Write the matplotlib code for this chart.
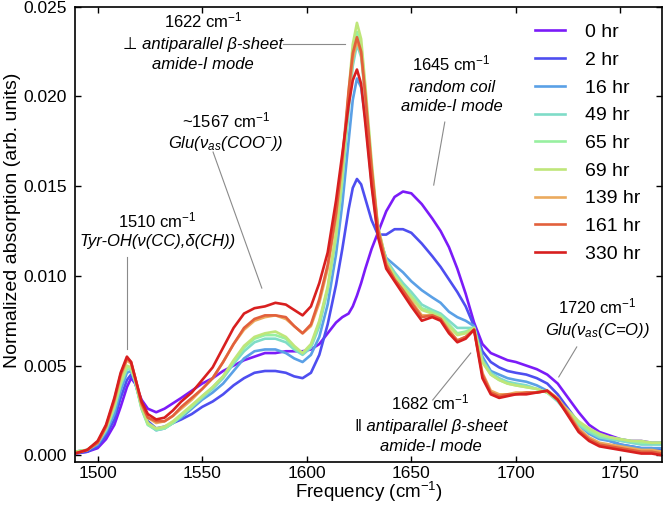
import numpy as np
import matplotlib
matplotlib.use("Agg")
import matplotlib.pyplot as plt

plt.rcParams['font.family'] = ['Liberation Sans', 'DejaVu Sans']
plt.rcParams['mathtext.fontset'] = 'custom'
plt.rcParams['mathtext.rm'] = 'Liberation Sans'
plt.rcParams['mathtext.it'] = 'Liberation Sans:italic'

# frequency grid (cm-1) shared by all spectra
freq = [1489, 1495, 1500, 1504, 1508, 1511, 1514, 1516, 1518, 1521,
        1524, 1528, 1532, 1536, 1540, 1545, 1550, 1555, 1560, 1565,
        1570, 1575, 1580, 1585, 1590, 1594, 1598, 1602, 1606, 1610,
        1614, 1617, 1620, 1622, 1624, 1626, 1628, 1631, 1634, 1638,
        1642, 1646, 1650, 1655, 1660, 1664, 1668, 1672, 1676, 1680,
        1684, 1688, 1692, 1696, 1700, 1705, 1710, 1715, 1720, 1725,
        1730, 1735, 1740, 1745, 1750, 1755, 1760, 1765, 1770]

labels = ["0 hr", "2 hr", "16 hr", "49 hr", "65 hr", "69 hr", "139 hr", "161 hr", "330 hr"]
colors = ["#7b1bf8", "#4e4ef0", "#5aa0e6", "#7fdcc8", "#98f0a0", "#bfe67a", "#ebaa5e", "#e2603c", "#d81f1f"]

a_0hr = [0.0001, 0.0002, 0.0004, 0.0009, 0.0017, 0.0027, 0.0038, 0.0043, 0.0040, 0.0031,
         0.0026, 0.0024, 0.0026, 0.0029, 0.0032, 0.0036, 0.0040, 0.0043, 0.0047, 0.0050,
         0.0053, 0.0055, 0.0057, 0.0057, 0.0058, 0.0058, 0.0058, 0.0059, 0.0062, 0.0068,
         0.0074, 0.0077, 0.0079, 0.0083, 0.0089, 0.0096, 0.0104, 0.0115, 0.0124, 0.0136,
         0.0144, 0.0147, 0.0146, 0.0140, 0.0132, 0.0125, 0.0116, 0.0104, 0.0090, 0.0074,
         0.0062, 0.0057, 0.0055, 0.0053, 0.0052, 0.0050, 0.0048, 0.0045, 0.0040, 0.0032,
         0.0024, 0.0017, 0.0013, 0.0011, 0.0009, 0.0008, 0.0008, 0.0007, 0.0007]
a_2hr = [0.0001, 0.0002, 0.0005, 0.0011, 0.0020, 0.0032, 0.0042, 0.0045, 0.0040, 0.0028,
         0.0019, 0.0015, 0.0016, 0.0018, 0.0020, 0.0023, 0.0027, 0.0030, 0.0034, 0.0039,
         0.0043, 0.0046, 0.0047, 0.0047, 0.0046, 0.0044, 0.0043, 0.0046, 0.0056, 0.0073,
         0.0095, 0.0115, 0.0137, 0.0149, 0.0154, 0.0151, 0.0143, 0.0131, 0.0123, 0.0123,
         0.0126, 0.0126, 0.0124, 0.0118, 0.0111, 0.0105, 0.0098, 0.0091, 0.0083, 0.0072,
         0.0058, 0.0052, 0.0049, 0.0047, 0.0046, 0.0045, 0.0043, 0.0040, 0.0034, 0.0026,
         0.0018, 0.0013, 0.0010, 0.0008, 0.0006, 0.0005, 0.0004, 0.0004, 0.0003]
a_16hr = [0.0002, 0.0003, 0.0006, 0.0013, 0.0023, 0.0036, 0.0046, 0.0047, 0.0041, 0.0027,
          0.0018, 0.0014, 0.0015, 0.0018, 0.0021, 0.0026, 0.0031, 0.0035, 0.0040, 0.0047,
          0.0054, 0.0058, 0.0059, 0.0059, 0.0057, 0.0054, 0.0052, 0.0056, 0.0066, 0.0084,
          0.0112, 0.0140, 0.0175, 0.0198, 0.0210, 0.0205, 0.0188, 0.0152, 0.0123, 0.0110,
          0.0106, 0.0102, 0.0097, 0.0092, 0.0088, 0.0085, 0.0080, 0.0077, 0.0075, 0.0072,
          0.0055, 0.0047, 0.0045, 0.0043, 0.0042, 0.0041, 0.0039, 0.0036, 0.0031, 0.0024,
          0.0017, 0.0012, 0.0009, 0.0008, 0.0006, 0.0005, 0.0004, 0.0004, 0.0004]
a_49hr = [0.0002, 0.0003, 0.0007, 0.0014, 0.0026, 0.0039, 0.0048, 0.0048, 0.0041, 0.0026,
          0.0017, 0.0014, 0.0015, 0.0018, 0.0022, 0.0027, 0.0032, 0.0037, 0.0043, 0.0051,
          0.0058, 0.0063, 0.0065, 0.0065, 0.0063, 0.0059, 0.0056, 0.0060, 0.0072, 0.0092,
          0.0121, 0.0152, 0.0192, 0.0217, 0.0229, 0.0222, 0.0200, 0.0158, 0.0126, 0.0109,
          0.0102, 0.0096, 0.0091, 0.0084, 0.0081, 0.0079, 0.0075, 0.0071, 0.0071, 0.0071,
          0.0053, 0.0046, 0.0043, 0.0041, 0.0040, 0.0039, 0.0037, 0.0035, 0.0030, 0.0023,
          0.0017, 0.0013, 0.0010, 0.0009, 0.0008, 0.0007, 0.0006, 0.0006, 0.0006]
a_65hr = [0.0002, 0.0003, 0.0007, 0.0015, 0.0027, 0.0040, 0.0049, 0.0048, 0.0041, 0.0026,
          0.0017, 0.00145, 0.0015, 0.0018, 0.0022, 0.0027, 0.0033, 0.0038, 0.0044, 0.0052,
          0.0060, 0.0065, 0.0067, 0.0067, 0.0065, 0.0060, 0.0057, 0.0061, 0.0074, 0.0093,
          0.0122, 0.0155, 0.0198, 0.0224, 0.0236, 0.0228, 0.0203, 0.0162, 0.0127, 0.0108,
          0.0100, 0.0094, 0.0089, 0.0082, 0.0080, 0.0078, 0.0073, 0.0068, 0.0069, 0.0071,
          0.0052, 0.0045, 0.0042, 0.0040, 0.0039, 0.0038, 0.0037, 0.0035, 0.0031, 0.0024,
          0.0018, 0.0014, 0.0011, 0.0010, 0.0009, 0.0008, 0.0007, 0.0007, 0.0007]
a_69hr = [0.0002, 0.0003, 0.0007, 0.0015, 0.0028, 0.0041, 0.0050, 0.0049, 0.0042, 0.0027,
          0.0018, 0.0015, 0.0016, 0.0019, 0.0023, 0.0028, 0.0033, 0.0038, 0.0044, 0.0053,
          0.0061, 0.0066, 0.0068, 0.0069, 0.0066, 0.0061, 0.0057, 0.0062, 0.0075, 0.0094,
          0.0124, 0.0157, 0.0202, 0.0229, 0.0241, 0.0232, 0.0206, 0.0164, 0.0128, 0.0108,
          0.0100, 0.0094, 0.0088, 0.0081, 0.0079, 0.0077, 0.0072, 0.0067, 0.0068, 0.0071,
          0.0052, 0.0045, 0.0042, 0.0040, 0.0039, 0.0038, 0.0037, 0.0035, 0.0031, 0.0025,
          0.0019, 0.0015, 0.0012, 0.0010, 0.0009, 0.0008, 0.0008, 0.0007, 0.0007]
a_139hr = [0.0001, 0.0003, 0.0007, 0.0016, 0.0030, 0.0044, 0.0053, 0.0051, 0.0043, 0.0028,
           0.0021, 0.0018, 0.0019, 0.0022, 0.0026, 0.0031, 0.0037, 0.0043, 0.0052, 0.0062,
           0.0070, 0.0075, 0.0077, 0.0078, 0.0076, 0.0072, 0.0068, 0.0072, 0.0085, 0.0104,
           0.0133, 0.0163, 0.0200, 0.0221, 0.0231, 0.0224, 0.0200, 0.0160, 0.0127, 0.0107,
           0.0098, 0.0092, 0.0086, 0.0078, 0.0078, 0.0076, 0.0070, 0.0064, 0.0066, 0.0070,
           0.0046, 0.0036, 0.0034, 0.0034, 0.0035, 0.0035, 0.0035, 0.0036, 0.0032, 0.0024,
           0.0015, 0.0010, 0.0007, 0.0006, 0.0005, 0.0004, 0.0003, 0.0003, 0.0002]
a_161hr = [0.0001, 0.0003, 0.0007, 0.0016, 0.0031, 0.0045, 0.0054, 0.0052, 0.0043, 0.0029,
           0.0021, 0.0019, 0.0019, 0.0022, 0.0027, 0.0032, 0.0037, 0.0043, 0.0052, 0.0062,
           0.0071, 0.0076, 0.0078, 0.0078, 0.0077, 0.0072, 0.0068, 0.0073, 0.0087, 0.0106,
           0.0135, 0.0165, 0.0203, 0.0224, 0.0233, 0.0225, 0.0201, 0.0160, 0.0126, 0.0106,
           0.0098, 0.0092, 0.0085, 0.0077, 0.0078, 0.0076, 0.0069, 0.0064, 0.0066, 0.0070,
           0.0045, 0.0035, 0.0033, 0.0034, 0.0034, 0.0035, 0.0035, 0.0036, 0.0031, 0.0023,
           0.0014, 0.0009, 0.0006, 0.0005, 0.0004, 0.0003, 0.0002, 0.0002, 0.0001]
a_330hr = [0.0001, 0.0003, 0.0008, 0.0017, 0.0032, 0.0046, 0.0055, 0.0052, 0.0043, 0.0030,
           0.0023, 0.0020, 0.0021, 0.0025, 0.0030, 0.0035, 0.0042, 0.0049, 0.0060, 0.0071,
           0.0079, 0.0082, 0.0083, 0.0085, 0.0084, 0.0081, 0.0078, 0.0083, 0.0096, 0.0113,
           0.0142, 0.0168, 0.0195, 0.0209, 0.0215, 0.0207, 0.0185, 0.0150, 0.0122, 0.0104,
           0.0097, 0.0090, 0.0083, 0.0075, 0.0077, 0.0075, 0.0068, 0.0063, 0.0065, 0.0070,
           0.0043, 0.0034, 0.0032, 0.0033, 0.0034, 0.0034, 0.0035, 0.0036, 0.0031, 0.0022,
           0.0013, 0.0008, 0.0005, 0.0004, 0.0003, 0.0002, 0.0001, 0.0001, 0.0000]

spectra = [a_0hr, a_2hr, a_16hr, a_49hr, a_65hr, a_69hr, a_139hr, a_161hr, a_330hr]

fig = plt.figure(figsize=(6.64, 5.07), dpi=100)
ax = fig.add_axes([0.1124, 0.0888, 0.885, 0.898])

for spec, lab, col in zip(spectra, labels, colors):
    ax.plot(freq, spec, color=col, lw=1.9, label=lab)

ax.set_xlim(1489, 1770)
ax.set_ylim(-0.00037, 0.025)
ax.set_xticks([1500, 1550, 1600, 1650, 1700, 1750])
ax.set_yticks([0.0, 0.005, 0.010, 0.015, 0.020, 0.025])
ax.set_yticklabels(["0.000", "0.005", "0.010", "0.015", "0.020", "0.025"])
ax.tick_params(direction='in', top=True, right=True, length=4, width=1, labelsize=12.5, pad=5.5)
ax.tick_params(axis='x', pad=3)
for s in ax.spines.values():
    s.set_linewidth(1.2)

ax.set_xlabel("Frequency (cm$^{-1}$)", fontsize=13.5)
ax.xaxis.set_label_coords(0.5, -0.066)
ax.xaxis.label.set_verticalalignment('center')
ax.set_ylabel("Normalized absorption (arb. units)", fontsize=14)
ax.yaxis.set_label_coords(-0.106, 0.531)
ax.yaxis.label.set_verticalalignment('center')

ax.legend(loc='upper left', bbox_to_anchor=(0.784, 0.963), frameon=False, fontsize=14,
          handlelength=1.55, handletextpad=1.0, labelspacing=0.52, borderpad=0, borderaxespad=0)

# annotations
fs = 12
gray = "#8a8a8a"
def note(x, ys, lines):
    for y, (txt, style) in zip(ys, lines):
        ax.text(x, y, txt, ha='center', va='center', fontsize=fs, style=style)

note(1550.5, [0.02425, 0.02292, 0.0218],
     [("1622 cm$^{-1}$", 'normal'), ("\u22a5 antiparallel \u03b2-sheet", 'italic'), ("amide-I mode", 'italic')])
ax.plot([1588.6, 1618.2], [0.02294, 0.02294], color=gray, lw=0.8)

note(1669.3, [0.02186, 0.0205, 0.01946],
     [("1645 cm$^{-1}$", 'normal'), ("random coil", 'italic'), ("amide-I mode", 'italic')])
ax.plot([1666.0, 1660.7], [0.01857, 0.01506], color=gray, lw=0.8)

note(1561.5, [0.01865, 0.01735],
     [("~1567 cm$^{-1}$", 'normal'), ("Glu(\u03bd$_{as}$(COO$^{-}$))", 'italic')])
ax.plot([1555.2, 1578.5], [0.0169, 0.00932], color=gray, lw=0.8)

note(1528.7, [0.01307, 0.0119],
     [("1510 cm$^{-1}$", 'normal'), ("Tyr-OH(\u03bd(CC),\u03b4(CH))", 'italic')])
ax.plot([1513.9, 1513.9], [0.01107, 0.00591], color=gray, lw=0.8)

note(1739.1, [0.00832, 0.00698],
     [("1720 cm$^{-1}$", 'normal'), ("Glu(\u03bd$_{as}$(C=O))", 'italic')])
ax.plot([1729.1, 1720.5], [0.00604, 0.00437], color=gray, lw=0.8)

note(1659.3, [0.00292, 0.00158, 0.00052],
     [("1682 cm$^{-1}$", 'normal'), ("\u2016 antiparallel \u03b2-sheet", 'italic'), ("amide-I mode", 'italic')])
ax.plot([1660.2, 1678.4], [0.00308, 0.0057], color=gray, lw=0.8)

fig.savefig("out.png", dpi=100)
